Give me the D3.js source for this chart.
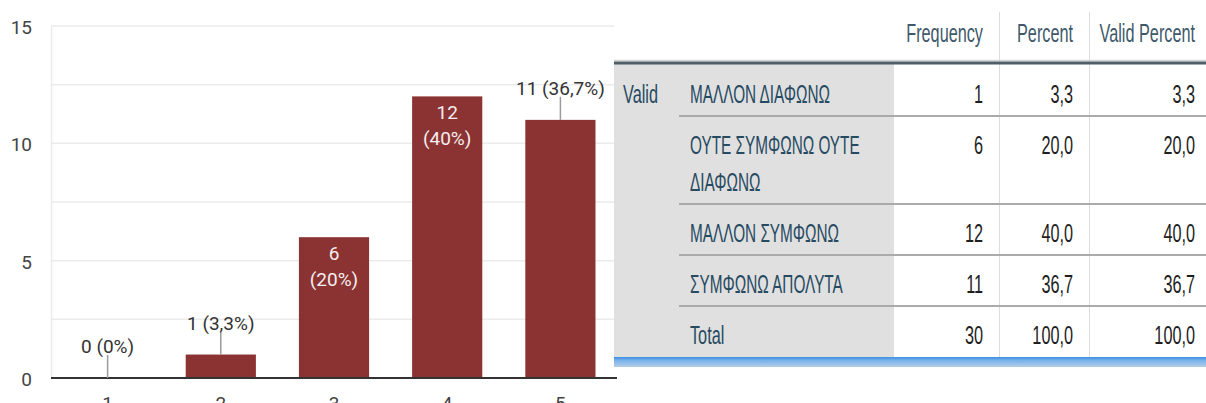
<!DOCTYPE html>
<html>
<head>
<meta charset="utf-8">
<script src="https://cdn.jsdelivr.net/npm/d3@7"></script>
<style>
  html, body { margin: 0; padding: 0; background: #fff; overflow: hidden; }
</style>
</head>
<body>
<svg id="chart" width="1206" height="403"></svg>
<script>
const scores = ['1', '2', '3', '4', '5'];
const counts = [0, 1, 6, 12, 11];
const percentLabels = ['0%', '3,3%', '20%', '40%', '36,7%'];
const yTicks = [0, 5, 10, 15];
const yGrid = [0, 2.5, 5, 7.5, 10, 12.5, 15];

const tableHeaders = ['Frequency', 'Percent', 'Valid Percent'];
const groupLabel = 'Valid';
const rowLabels = [
  ['ΜΑΛΛΟΝ ΔΙΑΦΩΝΩ'],
  ['ΟΥΤΕ ΣΥΜΦΩΝΩ ΟΥΤΕ', 'ΔΙΑΦΩΝΩ'],
  ['ΜΑΛΛΟΝ ΣΥΜΦΩΝΩ'],
  ['ΣΥΜΦΩΝΩ ΑΠΟΛΥΤΑ'],
  ['Total']
];
const frequencies = ['1', '6', '12', '11', '30'];
const percents = ['3,3', '20,0', '40,0', '36,7', '100,0'];
const validPercents = ['3,3', '20,0', '40,0', '36,7', '100,0'];

const svg = d3.select('#chart');
const chartFont = 'Roboto, "Noto Sans", sans-serif';
const barColor = '#8b3333';

let x = d3.scaleBand()
  .domain(scores)
  .range([51, 617])
  .paddingInner(0.38)
  .paddingOuter(0.19);

let y = d3.scaleLinear()
  .domain([0, 15])
  .range([378, 26]);

// chart
let chart = svg.append('g');

chart.selectAll('line.grid')
  .data(yGrid)
  .join('line')
  .attr('class', 'grid')
  .attr('x1', 51)
  .attr('x2', 617)
  .attr('y1', d => y(d))
  .attr('y2', d => y(d))
  .attr('stroke', '#ebebeb')
  .attr('stroke-width', 1.5);

chart.append('line')
  .attr('x1', 51.5)
  .attr('x2', 51.5)
  .attr('y1', y(15))
  .attr('y2', y(0))
  .attr('stroke', '#ebebeb')
  .attr('stroke-width', 1.5);

chart.selectAll('text.ytick')
  .data(yTicks)
  .join('text')
  .attr('class', 'ytick')
  .attr('x', 32)
  .attr('y', d => y(d) + 8)
  .attr('text-anchor', 'end')
  .attr('font-family', chartFont)
  .attr('font-size', 19)
  .attr('fill', '#444')
  .text(d => d);

chart.selectAll('rect.bar')
  .data(counts)
  .join('rect')
  .attr('class', 'bar')
  .attr('x', (d, i) => x(scores[i]))
  .attr('width', x.bandwidth())
  .attr('y', d => y(d))
  .attr('height', d => y(0) - y(d))
  .attr('fill', barColor);

chart.append('line')
  .attr('x1', 51)
  .attr('x2', 617)
  .attr('y1', y(0))
  .attr('y2', y(0))
  .attr('stroke', '#333')
  .attr('stroke-width', 2);

function measure(str) {
  let t = svg.append('text')
    .attr('font-family', chartFont)
    .attr('font-size', 19)
    .text(str);
  let w = t.node().getComputedTextLength();
  t.remove();
  return w;
}

let gLabels = chart.append('g');
counts.forEach((c, i) => {
  let cx = x(scores[i]) + x.bandwidth() / 2;
  let top = y(c);
  let lines = [`${c}`, `(${percentLabels[i]})`];
  let widest = d3.max(lines, measure);
  let inside = widest <= x.bandwidth() - 12 && (y(0) - top) > 60;
  if (inside) {
    lines.forEach((s, k) => {
      gLabels.append('text')
        .attr('x', cx)
        .attr('y', top + 23 + k * 26)
        .attr('text-anchor', 'middle')
        .attr('font-family', chartFont)
        .attr('font-size', 19)
        .attr('fill', '#f6eeee')
        .text(s);
    });
  }
  else {
    gLabels.append('line')
      .attr('x1', cx)
      .attr('x2', cx)
      .attr('y1', top - 23)
      .attr('y2', top)
      .attr('stroke', '#9a9a9a')
      .attr('stroke-width', 1.5);
    gLabels.append('text')
      .attr('x', cx)
      .attr('y', top - 25)
      .attr('text-anchor', 'middle')
      .attr('font-family', chartFont)
      .attr('font-size', 19)
      .attr('fill', '#333')
      .text(lines.join(' '));
  }
});

chart.selectAll('text.xtick')
  .data(scores)
  .join('text')
  .attr('class', 'xtick')
  .attr('x', d => x(d) + x.bandwidth() / 2)
  .attr('y', 410)
  .attr('text-anchor', 'middle')
  .attr('font-family', chartFont)
  .attr('font-size', 19)
  .attr('fill', '#444')
  .text(d => d);

// table
const tableLeft = 614;
const tableRight = 1206;
const labelRight = 894;
const colEdges = [894, 999, 1089, 1211];
const headerLine = 63;
const tableFont = '"Liberation Sans", Arial, sans-serif';
const squeeze = 0.625;
const greekSqueeze = 0.59;

let rowTops = [65];
rowLabels.forEach(r => rowTops.push(rowTops[rowTops.length - 1] + 51 + 37 * (r.length - 1)));
const tableBottom = rowTops[rowTops.length - 1];

let table = svg.append('g');

table.append('rect')
  .attr('x', tableLeft)
  .attr('y', 0)
  .attr('width', tableRight - tableLeft)
  .attr('height', tableBottom + 10)
  .attr('fill', '#fff');

table.append('rect')
  .attr('x', tableLeft)
  .attr('y', headerLine)
  .attr('width', labelRight - tableLeft)
  .attr('height', tableBottom - headerLine)
  .attr('fill', '#e0e0e0');

table.selectAll('line.coldiv')
  .data(colEdges.slice(1, 3))
  .join('line')
  .attr('class', 'coldiv')
  .attr('x1', d => d + 0.5)
  .attr('x2', d => d + 0.5)
  .attr('y1', 12)
  .attr('y2', tableBottom)
  .attr('stroke', '#dcdcdc')
  .attr('stroke-width', 1);

table.append('line')
  .attr('x1', tableLeft)
  .attr('x2', tableRight)
  .attr('y1', headerLine - 2.5)
  .attr('y2', headerLine - 2.5)
  .attr('stroke', '#d4d4d4')
  .attr('stroke-width', 1.5);

table.append('line')
  .attr('x1', tableLeft)
  .attr('x2', tableRight)
  .attr('y1', headerLine)
  .attr('y2', headerLine)
  .attr('stroke', '#4f5d66')
  .attr('stroke-width', 3);

table.selectAll('line.rowsep')
  .data(rowTops.slice(1, -1))
  .join('line')
  .attr('class', 'rowsep')
  .attr('x1', 679)
  .attr('x2', tableRight)
  .attr('y1', d => d)
  .attr('y2', d => d)
  .attr('stroke', '#ababab')
  .attr('stroke-width', 2);

let grad = svg.append('defs').append('linearGradient')
  .attr('id', 'blueBar')
  .attr('x1', 0).attr('x2', 0).attr('y1', 0).attr('y2', 1);
grad.append('stop').attr('offset', '0%').attr('stop-color', '#3b8fe4');
grad.append('stop').attr('offset', '35%').attr('stop-color', '#78b2ea');
grad.append('stop').attr('offset', '100%').attr('stop-color', '#b3cde8');

table.append('rect')
  .attr('x', tableLeft)
  .attr('y', tableBottom)
  .attr('width', tableRight - tableLeft)
  .attr('height', 10)
  .attr('fill', 'url(#blueBar)');

function cellText(str, tx, ty, anchor, color) {
  let sx = /[\u0370-\u03ff]/.test(str) ? greekSqueeze : squeeze;
  table.append('text')
    .attr('transform', `translate(${tx},${ty}) scale(${sx},1)`)
    .attr('text-anchor', anchor)
    .attr('font-family', tableFont)
    .attr('font-size', 26)
    .attr('fill', color)
    .text(str);
}

tableHeaders.forEach((h, j) => {
  cellText(h, colEdges[j + 1] - 16, 42, 'end', '#40596a');
});

cellText(groupLabel, 623, rowTops[0] + 38, 'start', '#264a60');

rowLabels.forEach((lines, i) => {
  let base = rowTops[i] + 38;
  lines.forEach((s, k) => cellText(s, 690, base + k * 37, 'start', '#264a60'));
  [frequencies, percents, validPercents].forEach((col, j) => {
    cellText(col[i], colEdges[j + 1] - 16, base, 'end', '#1e1e1e');
  });
});
</script>
</body>
</html>
